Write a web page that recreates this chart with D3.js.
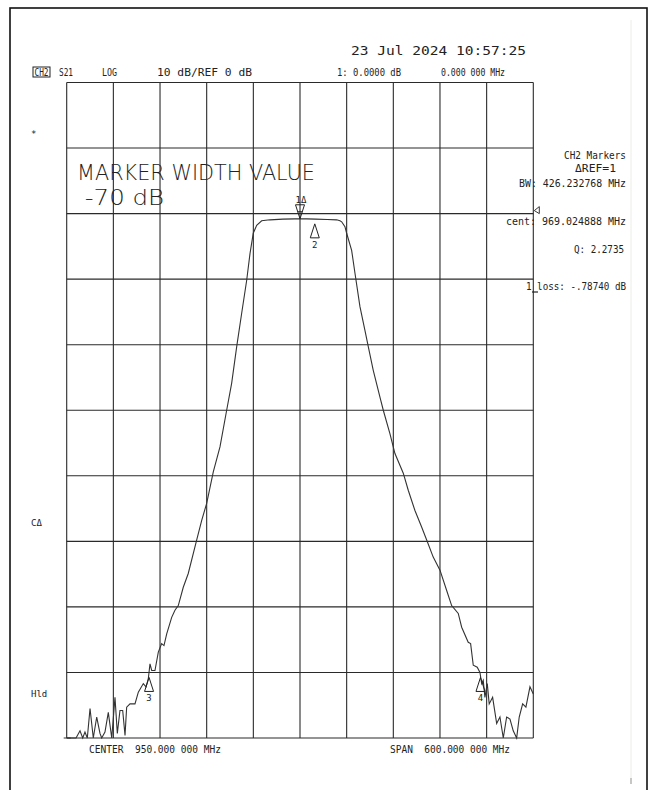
<!DOCTYPE html>
<html><head><meta charset="utf-8">
<script src="https://cdn.jsdelivr.net/npm/d3@7"></script>
<style>html,body{margin:0;padding:0;background:#fff;}svg{display:block;}</style>
</head><body>
<svg id="c" width="651" height="790"></svg>
<script>
// ---- data ----
const freqRange = [650, 1250];       // MHz, CENTER 950, SPAN 600
const dbRange = [-80, 20];           // 10 dB/div, REF 0 dB
const xDivisions = 10, yDivisions = 10;
const traceFreq = [650.0,662.0,667.1,670.6,673.5,676.5,680.0,684.2,688.6,692.8,695.0,699.2,703.5,707.9,712.1,715.1,718.5,722.0,725.0,727.1,731.4,737.8,742.1,748.5,752.0,754.9,757.1,759.3,763.5,767.8,772.1,775.1,778.6,785.0,789.2,793.5,799.9,806.3,817.1,823.6,830.0,838.5,847.1,855.7,862.1,868.6,875.0,881.4,885.7,889.9,894.3,900.7,911.4,928.1,943.5,950.0,958.6,970.0,985.0,997.1,1001.4,1003.6,1007.8,1010.0,1016.4,1020.7,1027.1,1033.5,1037.8,1044.2,1052.8,1057.1,1065.7,1072.1,1082.8,1089.2,1097.8,1106.4,1112.9,1121.3,1130.0,1138.6,1145.0,1153.5,1157.9,1166.3,1169.4,1172.8,1177.9,1181.4,1183.6,1185.6,1187.8,1190.8,1193.3,1197.7,1202.9,1207.1,1211.4,1215.7,1220.0,1224.2,1228.6,1231.9,1236.3,1240.5,1245.7,1250.0];
const traceDb = [-80,-80,-78.9,-80,-79.1,-80,-75.5,-80,-76.8,-79.3,-80,-79.1,-76.1,-80,-73.8,-79.3,-75.8,-75.8,-79.6,-75.3,-74.8,-74.8,-73.0,-71.7,-72.2,-71.0,-68.7,-69.7,-69.7,-66.9,-65.6,-65.9,-64.1,-61.6,-60.5,-59.8,-57.0,-54.9,-49.8,-46.8,-44.2,-39.4,-35.6,-30.0,-25.9,-20.3,-15.2,-10.2,-6.1,-3.0,-1.8,-1.1,-0.95,-0.85,-0.8,-0.79,-0.8,-0.85,-0.9,-0.95,-1.1,-1.25,-2.0,-3.0,-5.6,-9.1,-14.2,-17.8,-20.3,-23.9,-28.0,-30.0,-33.6,-36.6,-39.6,-42.2,-45.3,-47.8,-49.8,-52.4,-54.4,-57.5,-59.8,-61.0,-63.1,-65.4,-65.6,-68.9,-69.2,-70.0,-71.7,-71.2,-73.8,-71.7,-74.8,-73.8,-77.8,-76.8,-80,-76.8,-77.1,-78.9,-80,-76.8,-74.8,-75.3,-72.2,-73.3];
const markerLabels = ["1\u0394", "2", "3", "4"];
const markerFreq = [950.0, 969.02, 755.9, 1182.1];
const markerDb = [-0.79, -0.8, -70, -70];
const markerDir = ["down", "up", "up", "up"];
const headerTexts = ["S21", "LOG", "10 dB/REF 0 dB", "1: 0.0000 dB", "0.000 000 MHz"];
const dateText = "23 Jul 2024   10:57:25";
const sideLabels = ["*", "C\u0394", "Hld"];
const markerInfo = ["CH2 Markers", "\u0394REF=1", "BW: 426.232768 MHz", "cent: 969.024888 MHz", "Q: 2.2735", "1 loss: -.78740 dB"];
const bigText = ["MARKER WIDTH VALUE", " -70 dB"];
const footer = ["CENTER  950.000 000 MHz", "SPAN  600.000 000 MHz"];

// ---- drawing ----
const svg = d3.select("#c");
const W = 651, H = 790;
const gl = 66.7, gr = 533.3, gt = 82.5, gb = 738;
const x = d3.scaleLinear().domain(freqRange).range([gl, gr]);
const y = d3.scaleLinear().domain(dbRange).range([gb, gt]);
const mono = "'DejaVu Sans Mono', 'Liberation Mono', monospace";

// outer frame
svg.append("rect").attr("x", 10).attr("y", 8).attr("width", 637).attr("height", 800)
  .attr("fill", "none").attr("stroke", "#111").attr("stroke-width", 1.6);
svg.append("line").attr("x1", 631).attr("x2", 631).attr("y1", 20).attr("y2", 784)
  .attr("stroke", "#ecece4").attr("stroke-width", 1);
svg.append("line").attr("x1", 631).attr("x2", 631).attr("y1", 778).attr("y2", 784)
  .attr("stroke", "#999").attr("stroke-width", 1);

// grid
const xt = d3.range(xDivisions + 1).map(i => freqRange[0] + i * (freqRange[1] - freqRange[0]) / xDivisions);
const yt = d3.range(yDivisions + 1).map(i => dbRange[0] + i * (dbRange[1] - dbRange[0]) / yDivisions);
const grid = svg.append("g").attr("stroke", "#2a2a2a").attr("stroke-width", 1.1);
grid.selectAll(".v").data(xt).join("line").attr("x1", d => x(d)).attr("x2", d => x(d)).attr("y1", gt).attr("y2", gb);
grid.selectAll(".h").data(yt).join("line").attr("y1", d => y(d)).attr("y2", d => y(d)).attr("x1", gl).attr("x2", gr);

// trace
const pts = traceFreq.map((f, i) => [f, traceDb[i]]);
const line = d3.line().x(d => x(d[0])).y(d => y(d[1]));
svg.append("path").attr("d", line(pts)).attr("fill", "none").attr("stroke", "#333").attr("stroke-width", 1.1);
// small start segment left of trace
svg.append("line").attr("x1", x(650) - 3).attr("x2", x(650) + 4).attr("y1", y(-80)).attr("y2", y(-80)).attr("stroke", "#333");

// markers
markerFreq.forEach((f, i) => {
  const mx = x(f), my = y(markerDb[i]);
  let p, lx, ly;
  if (markerDir[i] === "down") {
    p = `M${mx},${my} L${mx - 4.5},${my - 14} L${mx + 4.5},${my - 14} Z M${mx - 2.5},${my - 7} L${mx + 2.5},${my - 7}`;
    lx = mx + 1; ly = my - 16;
  } else {
    const off = i === 1 ? 5 : 5;
    p = `M${mx},${my + off} L${mx - 4.5},${my + off + 14} L${mx + 4.5},${my + off + 14} Z`;
    lx = mx; ly = my + off + 24;
  }
  svg.append("path").attr("d", p).attr("fill", "none").attr("stroke", "#222").attr("stroke-width", 1);
  svg.append("text").attr("x", lx).attr("y", ly).attr("text-anchor", "middle")
    .attr("font-family", mono).attr("font-size", 9).attr("fill", "#222").text(markerLabels[i]);
});

// reference position indicator
const ry = y(0);
svg.append("path").attr("d", `M${gr + 1},${ry - 3} L${gr + 6},${ry - 7} L${gr + 6},${ry + 0} Z`)
  .attr("fill", "none").attr("stroke", "#222").attr("stroke-width", 0.9);

// header
const hdr = svg.append("g").attr("font-family", mono).attr("font-size", 10).attr("fill", "#222");
hdr.append("rect").attr("x", 33).attr("y", 67).attr("width", 17).attr("height", 10).attr("fill", "none").attr("stroke", "#222").attr("stroke-width", 1);
hdr.append("text").attr("x", 34.5).attr("y", 76).attr("textLength", 14).attr("lengthAdjust", "spacingAndGlyphs").text("CH2");
const hx = [[59, 14], [102, 15], [157, 95], [337, 64], [441, 64]];
headerTexts.forEach((t, i) => hdr.append("text").attr("x", hx[i][0]).attr("y", 76)
  .attr("textLength", hx[i][1]).attr("lengthAdjust", "spacingAndGlyphs").text(t));
svg.append("text").attr("x", 351).attr("y", 55).attr("font-family", mono).attr("font-size", 13).attr("fill", "#222")
  .attr("textLength", 175).attr("lengthAdjust", "spacingAndGlyphs").text(dateText);

// side labels
const sl = [[31, 137], [31, 526], [31, 697]];
sideLabels.forEach((t, i) => svg.append("text").attr("x", sl[i][0]).attr("y", sl[i][1])
  .attr("font-family", mono).attr("font-size", 9).attr("fill", "#222").text(t));

// marker info (right)
const mi = [[626, 159], [616, 172], [626, 187], [626, 225], [624, 253], [626, 290]];
const ml = [62, 41, 107, 120, 50, 100];
markerInfo.forEach((t, i) => svg.append("text").attr("x", mi[i][0]).attr("y", mi[i][1]).attr("text-anchor", "end")
  .attr("font-family", mono).attr("font-size", 10).attr("fill", "#222")
  .attr("textLength", ml[i]).attr("lengthAdjust", "spacingAndGlyphs").text(t));
svg.append("line").attr("x1", 532).attr("x2", 538).attr("y1", 292).attr("y2", 292).attr("stroke", "#222").attr("stroke-width", 1.2);

// big annotation
svg.append("text").attr("x", 77).attr("y", 180).attr("font-family", "'DejaVu Sans', sans-serif").attr("font-weight", 200)
  .attr("font-size", 22).attr("fill", "#222").attr("textLength", 238).attr("lengthAdjust", "spacingAndGlyphs").text(bigText[0]);
svg.append("text").attr("x", 77).attr("y", 205).attr("font-family", "'DejaVu Sans', sans-serif").attr("font-weight", 200)
  .attr("font-size", 21).attr("fill", "#222").attr("textLength", 87).attr("lengthAdjust", "spacingAndGlyphs").attr("xml:space", "preserve").text(bigText[1]);

// footer
const fx = [[89, 132], [390, 120]];
footer.forEach((t, i) => svg.append("text").attr("x", fx[i][0]).attr("y", 753).attr("font-family", mono)
  .attr("font-size", 10).attr("fill", "#222").attr("textLength", fx[i][1]).attr("lengthAdjust", "spacingAndGlyphs")
  .attr("xml:space", "preserve").text(t));
</script>
</body></html>
